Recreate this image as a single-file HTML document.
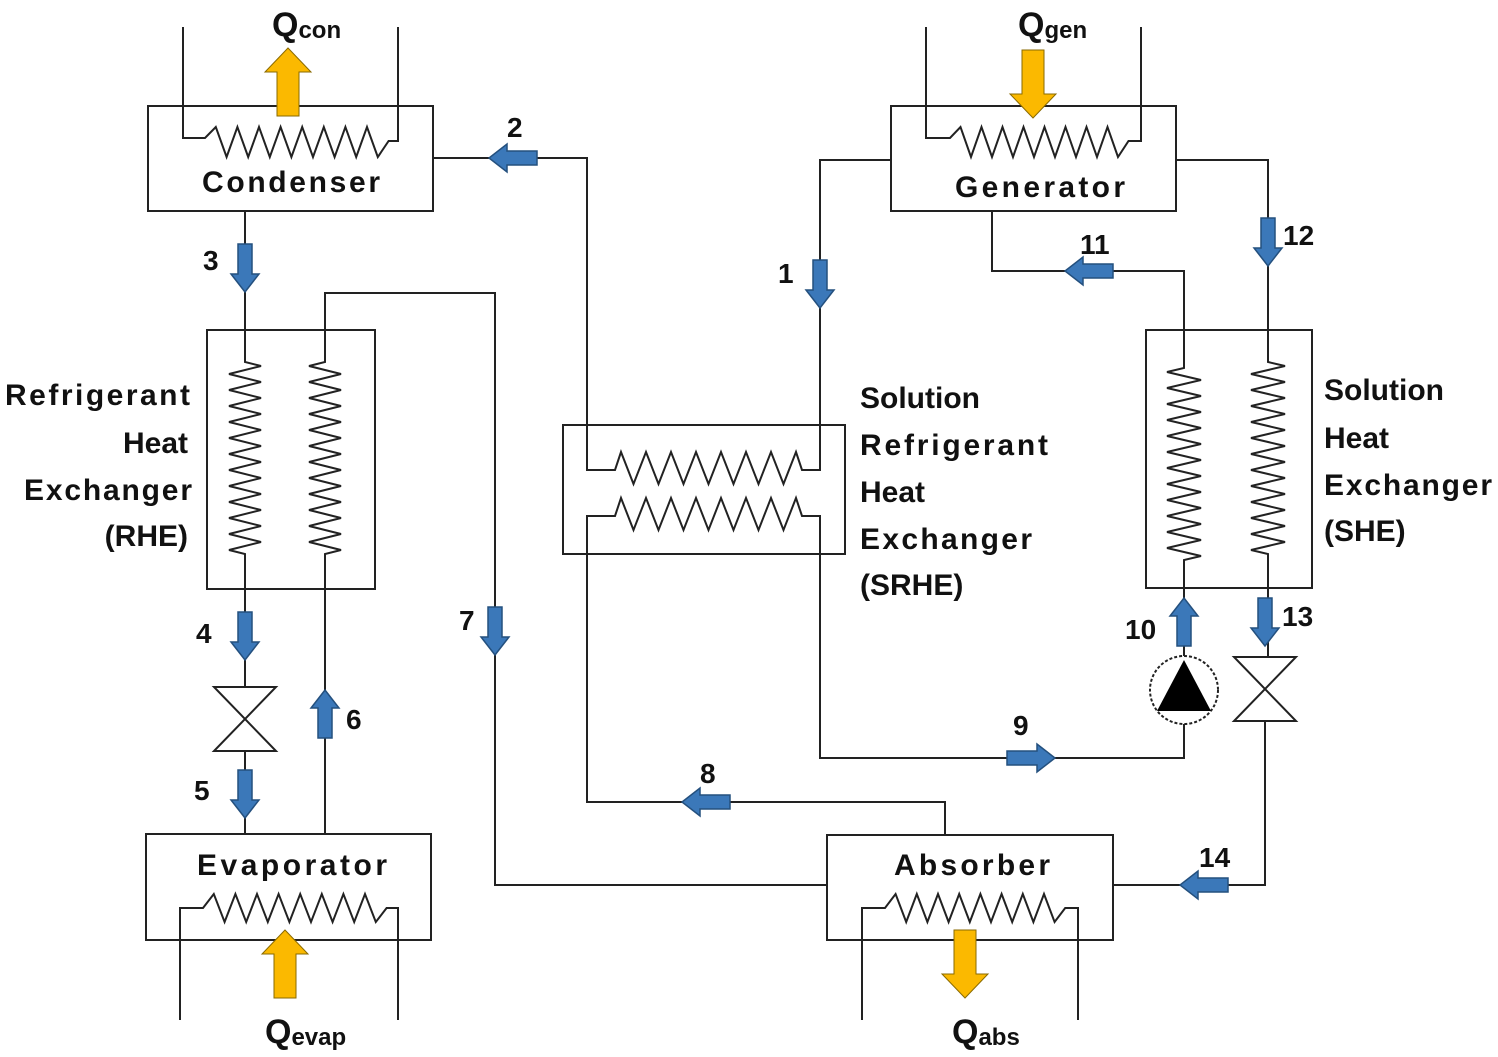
<!DOCTYPE html>
<html><head><meta charset="utf-8"><style>
html,body{margin:0;padding:0;background:#fff;}
svg{display:block}
text{font-family:"Liberation Sans",sans-serif;font-weight:bold;fill:#111;}
</style></head><body>
<svg width="1498" height="1057" viewBox="0 0 1498 1057" xmlns="http://www.w3.org/2000/svg">
<defs>
<path id="ba" d="M-7,0 H7 V30 H14 L0,48 L-14,30 H-7 Z" fill="#3b78b9" stroke="#24507e" stroke-width="1.5"/>
<path id="ya" d="M-11,0 H11 V-44 H23 L0,-68 L-23,-44 H-11 Z" fill="#fbb900" stroke="#8a6a00" stroke-width="1"/>
</defs>
<g fill="none" stroke="#222" stroke-width="2">
<!-- Condenser -->
<rect x="148" y="106" width="285" height="105"/>
<path d="M183,27 V138 H205 l10.8,-11 l10.8,30 l10.8,-30 l10.8,30 l10.8,-30 l10.8,30 l10.8,-30 l10.8,30 l10.8,-30 l10.8,30 l10.8,-30 l10.8,30 l10.8,-30 l10.8,30 l10.8,-30 l10.8,30 l10.8,-16 H398 V27"/>
<!-- Generator -->
<rect x="891" y="106" width="285" height="105"/>
<path d="M926,27 V138 H950 l10.5,-11 l10.5,30 l10.5,-30 l10.5,30 l10.5,-30 l10.5,30 l10.5,-30 l10.5,30 l10.5,-30 l10.5,30 l10.5,-30 l10.5,30 l10.5,-30 l10.5,30 l10.5,-30 l10.5,30 l10.5,-16 H1141 V27"/>
<!-- Evaporator -->
<rect x="146" y="834" width="285" height="106"/>
<path d="M180,1020 V908 H203 l10.8,-14 l10.8,28 l10.8,-28 l10.8,28 l10.8,-28 l10.8,28 l10.8,-28 l10.8,28 l10.8,-28 l10.8,28 l10.8,-28 l10.8,28 l10.8,-28 l10.8,28 l10.8,-28 l10.8,28 l10.8,-14 H398 V1020"/>
<!-- Absorber -->
<rect x="827" y="835" width="286" height="105"/>
<path d="M862,1020 V908 H885 l10.6,-14 l10.6,28 l10.6,-28 l10.6,28 l10.6,-28 l10.6,28 l10.6,-28 l10.6,28 l10.6,-28 l10.6,28 l10.6,-28 l10.6,28 l10.6,-28 l10.6,28 l10.6,-28 l10.6,28 l10.6,-14 H1078 V1020"/>
<!-- RHE -->
<rect x="207" y="330" width="168" height="259"/>
<path d="M245,211 V362 l16,4 l-32,8 l32,8 l-32,8 l32,8 l-32,8 l32,8 l-32,8 l32,8 l-32,8 l32,8 l-32,8 l32,8 l-32,8 l32,8 l-32,8 l32,8 l-32,8 l32,8 l-32,8 l32,8 l-32,8 l32,8 l-32,8 l16,4 V834"/>
<path d="M325,834 V554 l16,-4 l-32,-8 l32,-8 l-32,-8 l32,-8 l-32,-8 l32,-8 l-32,-8 l32,-8 l-32,-8 l32,-8 l-32,-8 l32,-8 l-32,-8 l32,-8 l-32,-8 l32,-8 l-32,-8 l32,-8 l-32,-8 l32,-8 l-32,-8 l32,-8 l-32,-8 l16,-4 V293 H495 V885 H827"/>
<!-- SHE -->
<rect x="1146" y="330" width="166" height="258"/>
<path d="M1184,660 V560 l17,-4 l-34,-8 l34,-8 l-34,-8 l34,-8 l-34,-8 l34,-8 l-34,-8 l34,-8 l-34,-8 l34,-8 l-34,-8 l34,-8 l-34,-8 l34,-8 l-34,-8 l34,-8 l-34,-8 l34,-8 l-34,-8 l34,-8 l-34,-8 l34,-8 l-34,-8 l17,-4 V271 H992 V211"/>
<path d="M1176,160 H1268 V362 l17,4 l-34,8 l34,8 l-34,8 l34,8 l-34,8 l34,8 l-34,8 l34,8 l-34,8 l34,8 l-34,8 l34,8 l-34,8 l34,8 l-34,8 l34,8 l-34,8 l34,8 l-34,8 l34,8 l-34,8 l34,8 l-34,8 l17,4 V657"/>
<path d="M1265,721 V885 H1113"/>
<!-- SRHE -->
<rect x="563" y="425" width="282" height="129"/>
<path d="M433,158 H587 V470 H615 l6,-18 l12.5,32 l12.5,-32 l12.5,32 l12.5,-32 l12.5,32 l12.5,-32 l12.5,32 l12.5,-32 l12.5,32 l12.5,-32 l12.5,32 l12.5,-32 l12.5,32 l12.5,-32 l6,18 H820 V160 H891"/>
<path d="M945,835 V802 H587 V516 H615 l6,-18 l12.5,32 l12.5,-32 l12.5,32 l12.5,-32 l12.5,32 l12.5,-32 l12.5,32 l12.5,-32 l12.5,32 l12.5,-32 l12.5,32 l12.5,-32 l12.5,32 l12.5,-32 l6,18 H820 V758 H1184 V723"/>
<!-- valves -->
<path d="M214,687 H276 L214,751 H276 Z" fill="#fff"/>
<path d="M1234,657 H1296 L1234,721 H1296 Z" fill="#fff"/>
<!-- pump -->
<circle cx="1184" cy="690" r="34" fill="#fff" stroke-dasharray="3,2"/>
</g>
<path d="M1184,660 L1211,711 H1157 Z" fill="#000"/>
<!-- blue arrows -->
<use href="#ba" transform="translate(245,244)"/>
<use href="#ba" transform="translate(245,612)"/>
<use href="#ba" transform="translate(245,770)"/>
<use href="#ba" transform="translate(325,738) rotate(180)"/>
<use href="#ba" transform="translate(495,607)"/>
<use href="#ba" transform="translate(820,260)"/>
<use href="#ba" transform="translate(1268,218)"/>
<use href="#ba" transform="translate(1265,598)"/>
<use href="#ba" transform="translate(1184,646) rotate(180)"/>
<use href="#ba" transform="translate(537,158) rotate(90)"/>
<use href="#ba" transform="translate(1113,271) rotate(90)"/>
<use href="#ba" transform="translate(730,802) rotate(90)"/>
<use href="#ba" transform="translate(1228,885) rotate(90)"/>
<use href="#ba" transform="translate(1007,758) rotate(-90)"/>
<!-- yellow arrows -->
<use href="#ya" transform="translate(288,116)"/>
<use href="#ya" transform="translate(285,998)"/>
<use href="#ya" transform="translate(1033,50) rotate(180)"/>
<use href="#ya" transform="translate(965,930) rotate(180)"/>
<!-- labels -->
<g font-size="30">
<text x="291" y="192" text-anchor="middle" textLength="178">Condenser</text>
<text x="1040" y="197" text-anchor="middle" textLength="170">Generator</text>
<text x="292" y="875" text-anchor="middle" textLength="190">Evaporator</text>
<text x="972" y="875" text-anchor="middle" textLength="156">Absorber</text>
<text x="190" y="405" text-anchor="end" textLength="185">Refrigerant</text>
<text x="188" y="453" text-anchor="end">Heat</text>
<text x="192" y="500" text-anchor="end" textLength="168">Exchanger</text>
<text x="188" y="546" text-anchor="end">(RHE)</text>
<text x="860" y="408">Solution</text>
<text x="860" y="455" textLength="188">Refrigerant</text>
<text x="860" y="502">Heat</text>
<text x="860" y="549" textLength="172">Exchanger</text>
<text x="860" y="595">(SRHE)</text>
<text x="1324" y="400">Solution</text>
<text x="1324" y="448">Heat</text>
<text x="1324" y="495" textLength="168">Exchanger</text>
<text x="1324" y="541">(SHE)</text>
</g>
<g font-size="28">
<text x="507" y="137">2</text>
<text x="203" y="270">3</text>
<text x="778" y="283">1</text>
<text x="1080" y="254">11</text>
<text x="1283" y="245">12</text>
<text x="196" y="643">4</text>
<text x="459" y="630">7</text>
<text x="346" y="729">6</text>
<text x="194" y="800">5</text>
<text x="1125" y="639">10</text>
<text x="1282" y="626">13</text>
<text x="1013" y="735">9</text>
<text x="700" y="783">8</text>
<text x="1199" y="867">14</text>
</g>
<g font-size="34">
<text x="272" y="36">Q<tspan font-size="24" dy="2">con</tspan></text>
<text x="1018" y="36">Q<tspan font-size="24" dy="2">gen</tspan></text>
<text x="265" y="1043">Q<tspan font-size="24" dy="2">evap</tspan></text>
<text x="952" y="1043">Q<tspan font-size="24" dy="2">abs</tspan></text>
</g>
</svg>
</body></html>
